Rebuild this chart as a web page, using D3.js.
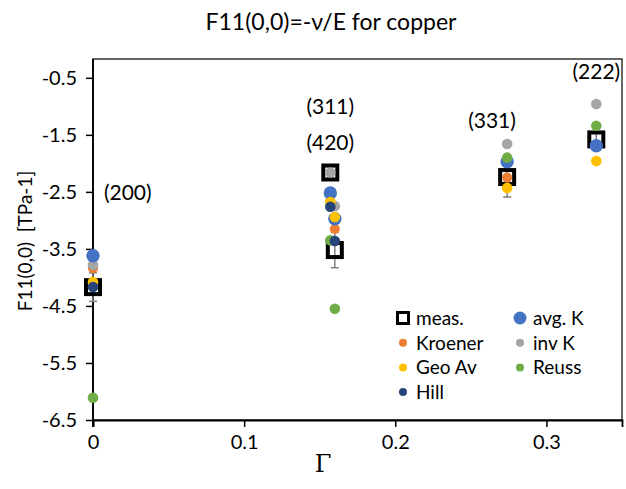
<!DOCTYPE html>
<html>
<head>
<meta charset="utf-8">
<script src="https://cdn.jsdelivr.net/npm/d3@7"></script>
<style>
  body { margin: 0; background: #fff; }
  svg { display: block; font-family: Lato, "Open Sans", sans-serif; }
</style>
</head>
<body>
<script>
// reflections and their Gamma values
var reflections = ["(200)", "(311)", "(420)", "(331)", "(222)"];
var gamma = [0, 0.157, 0.16, 0.274, 0.333];

// F11(0,0) values, TPa-1
var meas = [-4.17, -2.16, -3.52, -2.24, -1.58];
var measErr = [0.25, 0.1, 0.31, 0.35, 0.1];
var kroener = [-3.84, -2.66, -3.15, -2.25, null];
var invK = [-3.78, -2.16, -2.75, -1.66, -0.96];
var avgK = [-3.62, -2.52, -2.97, -1.97, -1.69];
var geoAv = [-4.08, -2.68, -2.94, -2.43, -1.96];
var reuss = [-6.11, -3.35, -4.55, -1.90, -1.34];
var hill = [-4.17, -2.76, -3.36, null, null];

var yTicks = [-6.5, -5.5, -4.5, -3.5, -2.5, -1.5, -0.5];
var xTicks = [0, 0.1, 0.2, 0.3];

// annotation text anchors (baseline) in data units
var annotations = [
    { text: "(200)", g: 0.023, v: -2.64 },
    { text: "(311)", g: 0.157, v: -1.13 },
    { text: "(420)", g: 0.157, v: -1.77 },
    { text: "(331)", g: 0.264, v: -1.38 },
    { text: "(222)", g: 0.333, v: -0.52 }
];

var width = 626, height = 489;

var x = d3.scaleLinear().domain([0, 0.35]).range([93, 622]);
var y = d3.scaleLinear().domain([-6.5, -0.17]).range([420, 59]);

var series = [
    { name: "Kroener", values: kroener, color: "#ED7D31", r: 5, lr: 4 },
    { name: "inv K", values: invK, color: "#A5A5A5", r: 5.3, lr: 4 },
    { name: "avg. K", values: avgK, color: "#4472C4", r: 6.7, lr: 6.5 },
    { name: "Geo Av", values: geoAv, color: "#FFC000", r: 5.3, lr: 4 },
    { name: "Reuss", values: reuss, color: "#70AD47", r: 5.3, lr: 4 },
    { name: "Hill", values: hill, color: "#264478", r: 5.3, lr: 4 }
];

var svg = d3.select("body").append("svg")
    .attr("width", width)
    .attr("height", height);

svg.append("rect").attr("width", width).attr("height", height).attr("fill", "#fff");

// title
svg.append("text")
    .attr("x", 331).attr("y", 30)
    .attr("text-anchor", "middle")
    .attr("font-size", 23)
    .text("F11(0,0)=-\u03bd/E for copper");

// plot frame
svg.append("rect")
    .attr("x", x(0)).attr("y", y(-0.17))
    .attr("width", x(0.35) - x(0)).attr("height", y(-6.5) - y(-0.17))
    .attr("fill", "none")
    .attr("stroke", "#333")
    .attr("stroke-width", 1.5);

// axes
var xAxis = d3.axisBottom(x)
    .tickValues(xTicks)
    .tickSize(7)
    .tickPadding(8)
    .tickFormat(function (d) { return d === 0 ? "0" : d.toFixed(1); });

var yAxis = d3.axisLeft(y)
    .tickValues(yTicks)
    .tickSize(7)
    .tickPadding(9)
    .tickFormat(function (d) { return d.toFixed(1); });

var gx = svg.append("g")
    .attr("transform", "translate(0," + y(-6.5) + ")")
    .call(xAxis);
var gy = svg.append("g")
    .attr("transform", "translate(" + x(0) + ",0)")
    .call(yAxis);

[gx, gy].forEach(function (g) {
    g.select(".domain").attr("stroke", "#000").attr("stroke-width", 1.8);
    g.selectAll(".tick line").attr("stroke", "#000").attr("stroke-width", 1.5);
    g.selectAll(".tick text")
        .attr("fill", "#000")
        .attr("font-size", 20)
        .attr("font-family", "Lato, 'Open Sans', sans-serif");
});
gy.select(".domain").attr("d", "M0," + y(-0.17) + "V" + (y(-6.5) + 7));

// axis titles
svg.append("text")
    .attr("transform", "translate(32," + 241 + ") rotate(-90)")
    .attr("text-anchor", "middle")
    .attr("font-size", 19)
    .style("white-space", "pre")
    .text("F11(0,0)  [TPa-1]");

svg.append("text")
    .attr("x", 323).attr("y", 472)
    .attr("text-anchor", "middle")
    .attr("font-family", "'DejaVu Serif', 'Liberation Serif', serif")
    .attr("font-size", 24)
    .text("\u0393");

// annotations
svg.selectAll(".ann")
    .data(annotations)
    .enter().append("text")
    .attr("class", "ann")
    .attr("x", function (d) { return x(d.g); })
    .attr("y", function (d) { return y(d.v); })
    .attr("text-anchor", "middle")
    .attr("font-size", 21)
    .text(function (d) { return d.text; });

// error bars of measurement
var err = svg.append("g")
    .selectAll("g")
    .data(gamma.map(function (g, i) { return { g: g, v: meas[i], e: measErr[i] }; }))
    .enter().append("g")
    .attr("stroke", "#7f7f7f")
    .attr("stroke-width", 1.5);
err.append("line")
    .attr("x1", function (d) { return x(d.g); })
    .attr("x2", function (d) { return x(d.g); })
    .attr("y1", function (d) { return y(d.v - d.e); })
    .attr("y2", function (d) { return y(d.v + d.e); });
err.each(function (d) {
    [d.v - d.e, d.v + d.e].forEach(function (v) {
        d3.select(this).append("line")
            .attr("x1", x(d.g) - 4).attr("x2", x(d.g) + 4)
            .attr("y1", y(v)).attr("y2", y(v));
    }, this);
});

// measured squares
var sq = 14;
svg.append("g")
    .selectAll("rect")
    .data(gamma.map(function (g, i) { return { g: g, v: meas[i] }; }))
    .enter().append("rect")
    .attr("x", function (d) { return x(d.g) - sq / 2; })
    .attr("y", function (d) { return y(d.v) - sq / 2; })
    .attr("width", sq).attr("height", sq)
    .attr("fill", "none")
    .attr("stroke", "#000")
    .attr("stroke-width", 4);

// model series
series.forEach(function (s) {
    svg.append("g")
        .selectAll("circle")
        .data(gamma.map(function (g, i) { return { g: g, v: s.values[i] }; })
            .filter(function (d) { return d.v !== null; }))
        .enter().append("circle")
        .attr("cx", function (d) { return x(d.g); })
        .attr("cy", function (d) { return y(d.v); })
        .attr("r", s.r)
        .attr("fill", s.color);
});

// legend
var legendItems = [
    { name: "meas.", col: 0, row: 0 },
    { name: "Kroener", col: 0, row: 1 },
    { name: "Geo Av", col: 0, row: 2 },
    { name: "Hill", col: 0, row: 3 },
    { name: "avg. K", col: 1, row: 0 },
    { name: "inv K", col: 1, row: 1 },
    { name: "Reuss", col: 1, row: 2 }
];
var legend = svg.append("g").attr("transform", "translate(403,318)");
legendItems.forEach(function (it) {
    var g = legend.append("g")
        .attr("transform", "translate(" + (it.col * 117) + "," + (it.row * 24.7) + ")");
    if (it.name === "meas.") {
        g.append("rect")
            .attr("x", -5.5).attr("y", -5.5)
            .attr("width", 11).attr("height", 11)
            .attr("fill", "none").attr("stroke", "#000").attr("stroke-width", 3);
    } else {
        var s = series.filter(function (d) { return d.name === it.name; })[0];
        g.append("circle").attr("r", s.lr).attr("fill", s.color);
    }
    g.append("text")
        .attr("x", 13).attr("y", 7)
        .attr("font-size", 19)
        .text(it.name);
});
</script>
</body>
</html>
